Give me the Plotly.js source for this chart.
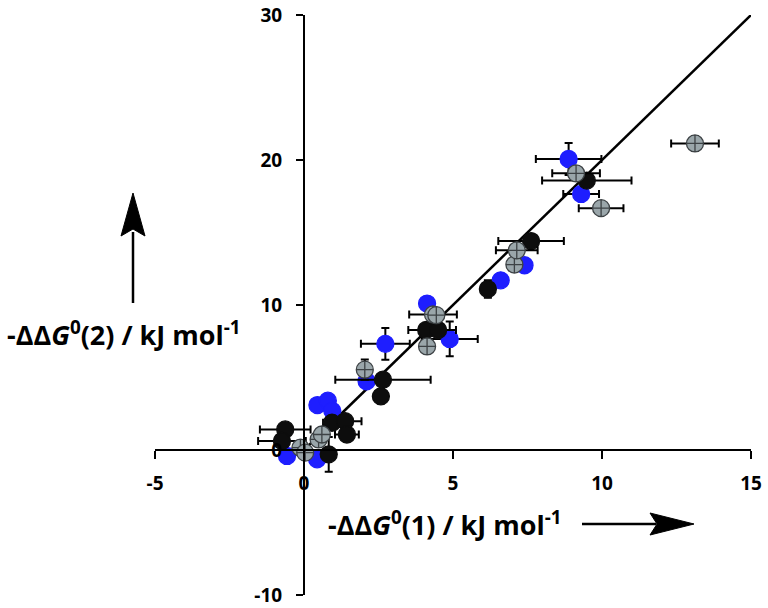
<!DOCTYPE html>
<html>
<head>
<meta charset="utf-8">
<script src="https://cdn.plot.ly/plotly-3.0.1.min.js"></script>
<style>html,body{margin:0;padding:0;background:#fff;}#chart{width:768px;height:608px;}</style>
</head>
<body>
<div id="chart"></div>
<script>
// Black series
const blackX  = [-0.63, -0.74, 0.94, 1.38, 1.44, 0.83, 2.65, 2.58, 4.10, 4.50, 6.17, 7.62, 9.49];
const blackY  = [ 1.42,  0.62, 1.88, 1.99, 1.07, -0.30, 4.85, 3.70, 8.28, 8.28, 11.10, 14.41, 18.58];
const blackEX = [ 0.85,  0.80, 0.30, 0.55, 0.40, 0.00, 1.60, 0.00, 0.60, 0.60, 0.00, 1.10, 1.50];
const blackEY = [ 0.00,  0.00, 0.00, 0.00, 0.00, 1.20, 0.00, 0.50, 0.00, 0.00, 0.60, 0.30, 0.00];
// Blue series
const blueX  = [0.45, 0.80, 0.95, -0.57, 0.44, 2.10, 2.73, 4.13, 4.89, 6.60, 7.40, 8.88, 9.30];
const blueY  = [3.10, 3.40, 2.70, -0.41, -0.64, 4.74, 7.32, 10.10, 7.66, 11.70, 12.74, 20.07, 17.66];
const blueEX = [0.00, 0.00, 0.00, 0.00, 0.00, 0.00, 0.82, 0.00, 0.94, 0.00, 0.00, 1.10, 0.60];
const blueEY = [0.00, 0.00, 0.00, 0.00, 0.00, 0.00, 1.10, 0.00, 1.20, 0.00, 0.00, 1.10, 0.00];
// Grey series
const greyX  = [-0.12, 0.04, 0.49, 0.60, 2.04, 4.33, 4.44, 4.13, 7.06, 7.14, 9.13, 9.97, 13.12];
const greyY  = [ 0.16, -0.18, 0.73, 1.07, 5.54, 9.35, 9.30, 7.14, 12.79, 13.77, 19.08, 16.68, 21.14];
const greyEX = [ 0.00, 0.00, 0.00, 0.00, 0.00, 0.80, 0.00, 0.00, 0.00, 0.70, 0.80, 0.75, 0.80];
const greyEY = [ 0.00, 0.00, 0.00, 0.00, 0.70, 0.00, 0.00, 0.00, 0.00, 0.00, 0.00, 0.00, 0.50];
// Correlation line
const fitX = [0, 15];
const fitY = [0, 30];
// Axis ticks
const xTicks = [-5, 0, 5, 10, 15];
const yTicks = [-10, 0, 10, 20, 30];

const M = {l:155, r:17, t:15, b:13};
const W = 768, H = 608;
const pw = W - M.l - M.r, ph = H - M.t - M.b;
const px = v => (v - M.l) / pw;
const py = v => (H - M.b - v) / ph;

function errTrace(x, y, ex, ey, color, symbol, lineColor) {
  return {
    type: 'scatter', mode: 'markers', x: x, y: y,
    error_x: {type: 'data', array: ex, visible: true, color: '#000', thickness: 2, width: 4},
    error_y: {type: 'data', array: ey, visible: true, color: '#000', thickness: 2, width: 4},
    marker: {size: 17, color: color, symbol: symbol, line: {color: lineColor, width: 1.3}},
    cliponaxis: false, hoverinfo: 'skip'
  };
}

const traces = [
  {type: 'scatter', mode: 'lines', x: fitX, y: fitY, line: {color: '#000', width: 2.5}, hoverinfo: 'skip'},
  errTrace(blueX, blueY, blueEX, blueEY, '#1e1eff', 'circle', '#1e1eff'),
  errTrace(blackX, blackY, blackEX, blackEY, '#0d0d0d', 'circle', '#0d0d0d'),
  errTrace(greyX, greyY, greyEX, greyEY, '#9aa6aa', 'circle-cross', '#3d4245')
];

const tickFont = {family: '"Open Sans", Lato, sans-serif', size: 19, color: '#000', weight: 'bold'};
const titleFont = {family: '"Open Sans", Lato, sans-serif', size: 27, color: '#000', weight: 'bold'};

const layout = {
  width: W, height: H,
  margin: M,
  paper_bgcolor: '#fff', plot_bgcolor: '#fff',
  showlegend: false,
  xaxis: {
    range: [-5, 15], tickvals: xTicks, ticktext: xTicks.map(String),
    showgrid: false, zeroline: false, showline: true, linecolor: '#000', linewidth: 2,
    ticks: 'outside', ticklen: 8, tickwidth: 2, tickcolor: '#000',
    anchor: 'free', position: 0.25, tickfont: tickFont, ticklabelstandoff: 8,
    ticklabeloverflow: 'allow'
  },
  yaxis: {
    range: [-10, 30], tickvals: yTicks, ticktext: yTicks.map(String),
    showgrid: false, zeroline: false, showline: true, linecolor: '#000', linewidth: 2,
    ticks: 'outside', ticklen: 7, tickwidth: 2, tickcolor: '#000',
    anchor: 'free', position: 0.25, tickfont: tickFont, ticklabelstandoff: 10,
    ticklabeloverflow: 'allow'
  },
  annotations: [
    {xref: 'paper', yref: 'paper', x: px(124), y: py(333), xanchor: 'center', yanchor: 'middle',
     text: '-ΔΔ<i>G</i><sup>0</sup>(2) / kJ mol<sup>-1</sup>', showarrow: false, font: titleFont},
    {xref: 'paper', yref: 'paper', x: px(445), y: py(523), xanchor: 'center', yanchor: 'middle',
     text: '-ΔΔ<i>G</i><sup>0</sup>(1) / kJ mol<sup>-1</sup>', showarrow: false, font: titleFont}
  ],
  shapes: [
    {type: 'line', xref: 'paper', yref: 'paper', x0: px(133), x1: px(133), y0: py(303), y1: py(232),
     line: {color: '#000', width: 2.5}},
    {type: 'path', xref: 'paper', yref: 'paper',
     path: `M ${px(133)} ${py(193)} L ${px(145)} ${py(236)} L ${px(133)} ${py(229)} L ${px(121)} ${py(236)} Z`,
     fillcolor: '#000', line: {color: '#000', width: 1}},
    {type: 'line', xref: 'paper', yref: 'paper', x0: px(582), x1: px(656), y0: py(524), y1: py(524),
     line: {color: '#000', width: 2.5}},
    {type: 'path', xref: 'paper', yref: 'paper',
     path: `M ${px(694)} ${py(524)} L ${px(650)} ${py(513)} L ${px(657)} ${py(524)} L ${px(650)} ${py(535)} Z`,
     fillcolor: '#000', line: {color: '#000', width: 1}}
  ]
};

Plotly.newPlot('chart', traces, layout, {staticPlot: true, displayModeBar: false});
</script>
</body>
</html>
